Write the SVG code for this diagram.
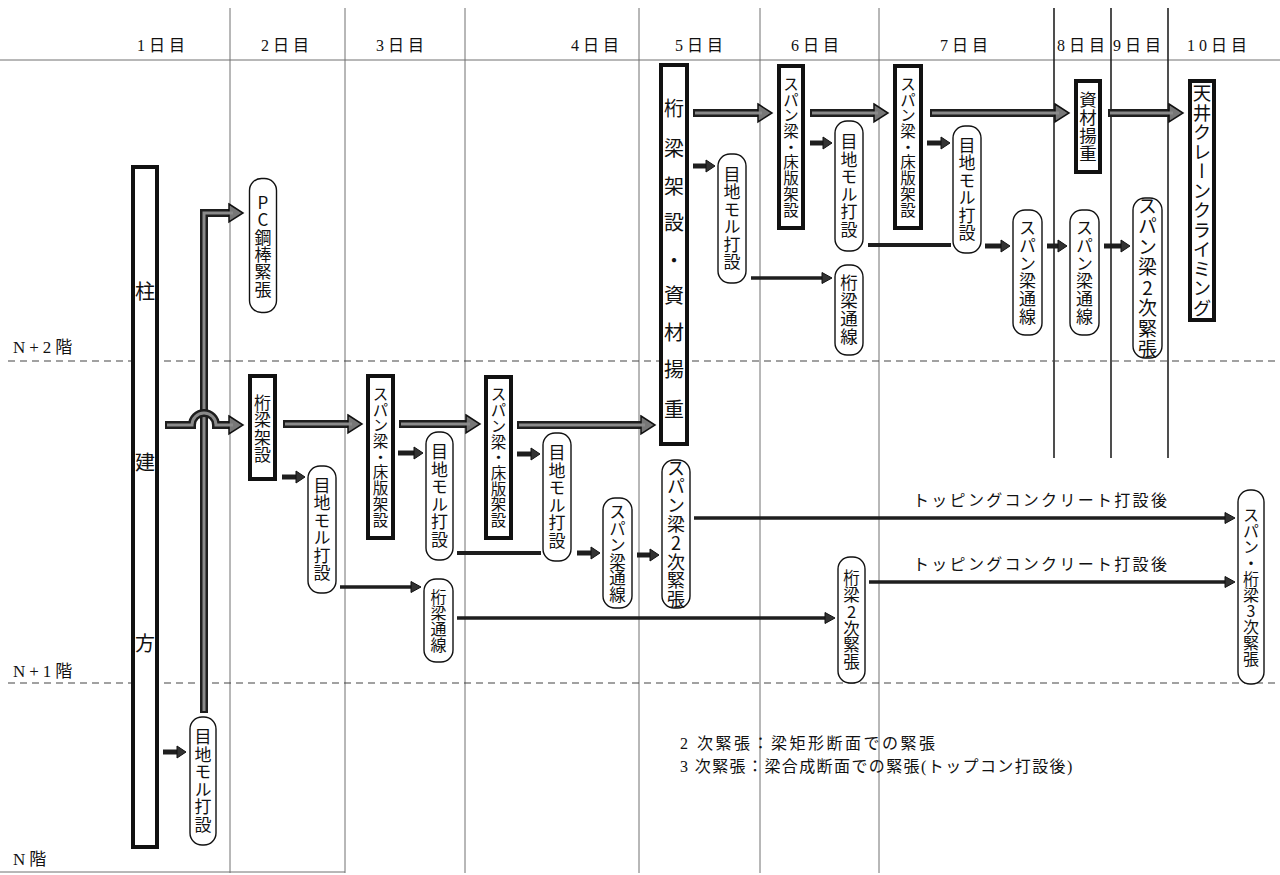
<svg xmlns="http://www.w3.org/2000/svg" width="1280" height="875" viewBox="0 0 1280 875">
<defs>
<style>
.grid{stroke:#707070;stroke-width:1;fill:none}
.grid8{stroke:#222;stroke-width:1.6;fill:none}
.dash{stroke:#444;stroke-width:1.1;stroke-dasharray:7 5;fill:none}
.hdr{font-family:"Liberation Serif","Noto Sans CJK JP",serif;font-size:16px;fill:#111;text-anchor:middle;letter-spacing:4px}
.flr{font-family:"Liberation Serif","Noto Sans CJK JP",serif;font-size:17px;fill:#111;letter-spacing:4px}
.note{font-family:"Liberation Serif","Noto Sans CJK JP",serif;font-size:16px;fill:#111;letter-spacing:1.4px}
.tk{fill:#fff;stroke:#111;stroke-width:4}
.rd{fill:#fff;stroke:#111;stroke-width:1.4}
.vt{font-family:"Noto Sans CJK JP",sans-serif;font-size:17px;fill:#111;writing-mode:vertical-rl;text-orientation:upright;text-anchor:middle}
.big{font-size:20px}
.thk{fill:none;stroke:#1e1e1e;stroke-width:8;marker-end:url(#ahT)}
.thi{fill:none;stroke:#8a8a8a;stroke-width:3}
.sm{fill:none;stroke:#1e1e1e;stroke-width:5;marker-end:url(#ahS)}
.md{fill:none;stroke:#1e1e1e;stroke-width:3.5;marker-end:url(#ahM)}
.ln{fill:none;stroke:#1e1e1e;stroke-width:4}
</style>
<marker id="ahT" markerUnits="userSpaceOnUse" markerWidth="20" markerHeight="24" refX="4" refY="10" orient="auto" overflow="visible"><path d="M0,1 L14,10 L0,19 Z" fill="#777" stroke="#111" stroke-width="1.5"/></marker>
<marker id="ahS" markerUnits="userSpaceOnUse" markerWidth="12" markerHeight="14" refX="3" refY="6" orient="auto" overflow="visible"><path d="M0,0 L9,6 L0,12 Z" fill="#333" stroke="#111" stroke-width="1"/></marker>
<marker id="ahM" markerUnits="userSpaceOnUse" markerWidth="12" markerHeight="13" refX="3" refY="5.5" orient="auto" overflow="visible"><path d="M0,0 L10,5.5 L0,11 Z" fill="#333" stroke="#111" stroke-width="1"/></marker>
</defs>
<rect width="1280" height="875" fill="#fff"/>

<g id="grid">
<line class="grid" x1="0" y1="60" x2="1280" y2="60"/>
<line class="grid" x1="230" y1="8" x2="230" y2="873"/>
<line class="grid" x1="345" y1="8" x2="345" y2="873"/>
<line class="grid" x1="465" y1="8" x2="465" y2="873"/>
<line class="grid" x1="639" y1="8" x2="639" y2="873"/>
<line class="grid" x1="760" y1="8" x2="760" y2="873"/>
<line class="grid" x1="879" y1="8" x2="879" y2="873"/>
<line class="grid8" x1="1054" y1="8" x2="1054" y2="458"/>
<line class="grid8" x1="1111" y1="8" x2="1111" y2="458"/>
<line class="grid8" x1="1168" y1="8" x2="1168" y2="458"/>
<line class="grid" x1="0" y1="872" x2="345" y2="872"/>
<line class="dash" x1="8" y1="361" x2="1280" y2="361"/>
<line class="dash" x1="8" y1="683" x2="1280" y2="683"/>
</g>

<g id="headers">
<text class="hdr" x="163" y="51">1日目</text>
<text class="hdr" x="287" y="51">2日目</text>
<text class="hdr" x="402" y="51">3日目</text>
<text class="hdr" x="597" y="51">4日目</text>
<text class="hdr" x="701" y="51">5日目</text>
<text class="hdr" x="817" y="51">6日目</text>
<text class="hdr" x="966" y="51">7日目</text>
<text class="hdr" x="1083" y="51">8日目</text>
<text class="hdr" x="1139" y="51">9日目</text>
<text class="hdr" x="1219" y="51">10日目</text>
<text class="flr" x="13" y="353">N+2階</text>
<text class="flr" x="13" y="677">N+1階</text>
<text class="flr" x="13" y="865">N階</text>
</g>

<g id="connectors">
<path class="thk" d="M204,713 V213 H233"/>
<path class="thi" d="M204,711 V213 H233"/>
<path class="thk" d="M165,425 H192 A12,12 0 0 1 216,425 H233"/>
<path class="thi" d="M167,425 H192 A12,12 0 0 1 216,425 H233"/>
<path class="thk" d="M283,424 H352"/><path class="thi" d="M285,424 H352"/>
<path class="thk" d="M399,424 H470"/><path class="thi" d="M401,424 H470"/>
<path class="thk" d="M517,425 H645"/><path class="thi" d="M519,425 H645"/>
<path class="thk" d="M693,113 H762"/><path class="thi" d="M695,113 H762"/>
<path class="thk" d="M810,113 H878"/><path class="thi" d="M812,113 H878"/>
<path class="thk" d="M930,113 H1059"/><path class="thi" d="M932,113 H1059"/>
<path class="thk" d="M1108,113 H1173"/><path class="thi" d="M1110,113 H1173"/>

<path class="sm" d="M163,752 H180"/>
<path class="sm" d="M282,477 H299"/>
<path class="sm" d="M398,453 H417"/>
<path class="sm" d="M517,454 H534"/>
<path class="sm" d="M693,166 H709"/>
<path class="sm" d="M810,143 H826"/>
<path class="sm" d="M927,143 H944"/>
<path class="sm" d="M577,553 H594"/>
<path class="sm" d="M637,555 H653"/>
<path class="sm" d="M985,246 H1004"/>
<path class="sm" d="M1047,246 H1061"/>
<path class="sm" d="M1104,246 H1124"/>

<path class="ln" d="M457,553 H541"/>
<path class="ln" d="M868,245 H951"/>
<path class="md" d="M340,587 H414"/>
<path class="md" d="M457,618 H828"/>
<path class="md" d="M751,278 H825"/>
<path class="md" d="M694,518 H1228"/>
<path class="md" d="M869,582 H1228"/>
<text class="note" x="913" y="506" style="letter-spacing:2.3px">トッピングコンクリート打設後</text>
<text class="note" x="913" y="570" style="letter-spacing:2.3px">トッピングコンクリート打設後</text>
</g>

<g id="n-hashira">
<rect class="tk" x="133" y="167" width="24" height="680"/>
<text class="vt big" x="145" y="291">柱</text>
<text class="vt big" x="145" y="462">建</text>
<text class="vt big" x="145" y="643">方</text>
</g>
<g id="n-d2-ketahari"><rect class="tk" x="250" y="376" width="25" height="103"/><text class="vt" x="262.5" y="429" style="letter-spacing:0.5px">桁梁架設</text></g>
<g id="n-d3-span"><rect class="tk" x="368" y="376" width="25" height="162"/><text class="vt" x="380.5" y="457" style="font-size:15.5px;letter-spacing:0.2px">スパン梁・床版架設</text></g>
<g id="n-d4-span"><rect class="tk" x="486" y="377" width="25" height="161"/><text class="vt" x="498.5" y="457.5" style="font-size:15.5px;letter-spacing:0.2px">スパン梁・床版架設</text></g>
<g id="n-d5-ketahari">
<rect class="tk" x="661" y="65" width="26" height="379"/>
<text class="vt big" x="674" y="108">桁</text>
<text class="vt big" x="674" y="148">梁</text>
<text class="vt big" x="674" y="186">架</text>
<text class="vt big" x="674" y="222">設</text>
<text class="vt big" x="674" y="260">・</text>
<text class="vt big" x="674" y="295">資</text>
<text class="vt big" x="674" y="332">材</text>
<text class="vt big" x="674" y="369">揚</text>
<text class="vt big" x="674" y="409">重</text>
</g>
<g id="n-d6-span"><rect class="tk" x="779" y="66" width="24" height="162"/><text class="vt" x="791" y="147" style="font-size:15.5px;letter-spacing:0.2px">スパン梁・床版架設</text></g>
<g id="n-d7-span"><rect class="tk" x="895" y="66" width="26" height="162"/><text class="vt" x="908" y="147" style="font-size:15.5px;letter-spacing:0.2px">スパン梁・床版架設</text></g>
<g id="n-d8-shizai"><rect class="tk" x="1076" y="81" width="24" height="91"/><text class="vt" x="1088" y="126.5" style="font-size:17.5px;letter-spacing:0.3px">資材揚重</text></g>
<g id="n-d10-crane"><rect class="tk" x="1190" y="81" width="24" height="239"/><text class="vt" x="1202" y="201" style="font-size:18.5px;letter-spacing:1px">天井クレーンクライミング</text></g>

<g id="r-d2-pc"><rect class="rd" x="249.5" y="178.5" width="27" height="134" rx="12"/><text class="vt" x="263" y="246" style="letter-spacing:0.3px">PC鋼棒緊張</text></g>
<g id="r-d1-meji"><rect class="rd" x="190" y="717" width="26" height="128" rx="12"/><text class="vt" x="203" y="781" style="letter-spacing:0.5px">目地モル打設</text></g>
<g id="r-d2-meji"><rect class="rd" x="308" y="466" width="28" height="127" rx="12"/><text class="vt" x="322" y="529.5" style="letter-spacing:0.5px">目地モル打設</text></g>
<g id="r-d3-meji"><rect class="rd" x="426" y="432" width="27" height="128" rx="12"/><text class="vt" x="439.5" y="496" style="letter-spacing:0.5px">目地モル打設</text></g>
<g id="r-d3-tsusen"><rect class="rd" x="424" y="579" width="29" height="83" rx="12"/><text class="vt" x="438.5" y="620.5" style="font-size:16px">桁梁通線</text></g>
<g id="r-d4-meji"><rect class="rd" x="543" y="433" width="28" height="128" rx="12"/><text class="vt" x="557" y="497" style="letter-spacing:0.5px">目地モル打設</text></g>
<g id="r-d4-tsusen"><rect class="rd" x="603" y="498" width="29" height="110" rx="12"/><text class="vt" x="617.5" y="553" style="font-size:16.5px">スパン梁通線</text></g>
<g id="r-d5-niji"><rect class="rd" x="662" y="460" width="28" height="148" rx="12"/><text class="vt" x="676" y="534" style="font-size:18px;letter-spacing:0.8px">スパン梁2次緊張</text></g>
<g id="r-d5-meji"><rect class="rd" x="718" y="154" width="28" height="129" rx="12"/><text class="vt" x="732" y="218.5" style="letter-spacing:0.5px">目地モル打設</text></g>
<g id="r-d6-meji"><rect class="rd" x="835" y="121" width="28" height="130" rx="12"/><text class="vt" x="849" y="186" style="letter-spacing:0.5px">目地モル打設</text></g>
<g id="r-d6-tsusen"><rect class="rd" x="835" y="265" width="28" height="90" rx="12"/><text class="vt" x="849" y="310" style="font-size:17.5px;letter-spacing:0.5px">桁梁通線</text></g>
<g id="r-d7-meji"><rect class="rd" x="953" y="126" width="28" height="127" rx="12"/><text class="vt" x="967" y="189.5" style="letter-spacing:0.5px">目地モル打設</text></g>
<g id="r-d7-tsusen"><rect class="rd" x="1013" y="210" width="29" height="125" rx="12"/><text class="vt" x="1027.5" y="272.5" style="letter-spacing:0.8px">スパン梁通線</text></g>
<g id="r-d8-tsusen"><rect class="rd" x="1070" y="210" width="29" height="125" rx="12"/><text class="vt" x="1084.5" y="272.5" style="letter-spacing:0.8px">スパン梁通線</text></g>
<g id="r-d9-niji"><rect class="rd" x="1133" y="198" width="29" height="160" rx="12"/><text class="vt" x="1147.5" y="278" style="font-size:19px;letter-spacing:1.5px">スパン梁2次緊張</text></g>
<g id="r-d6-niji"><rect class="rd" x="838" y="557" width="27" height="126" rx="12"/><text class="vt" x="851.5" y="620" style="font-size:16.5px;letter-spacing:0.3px">桁梁2次緊張</text></g>
<g id="r-d10-sanji"><rect class="rd" x="1238" y="490" width="26" height="194" rx="12"/><text class="vt" x="1251" y="587" style="font-size:16px">スパン・桁梁3次緊張</text></g>

<g id="legend">
<text class="note" x="680" y="749" style="letter-spacing:2.5px">2 次緊張：梁矩形断面での緊張</text>
<text class="note" x="680" y="772">3 次緊張：梁合成断面での緊張(トップコン打設後)</text>
</g>
</svg>
